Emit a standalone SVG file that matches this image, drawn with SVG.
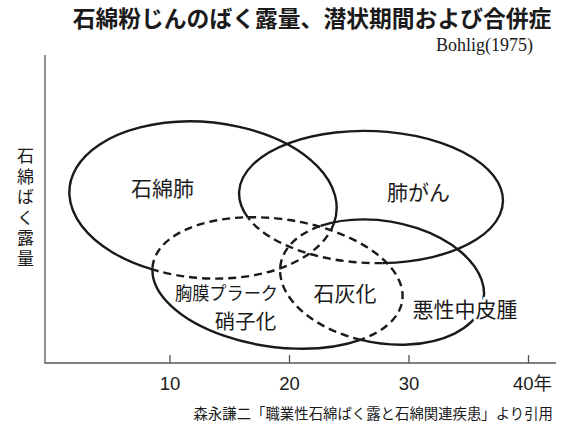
<svg xmlns="http://www.w3.org/2000/svg" width="572" height="424" viewBox="0 0 572 424">
<style>
.bg{fill:#fff}
.ax{stroke:#555;stroke-width:1.3;fill:none}
.s{fill:none;stroke:#1a1a1a;stroke-width:2.4}
.d{fill:none;stroke:#1a1a1a;stroke-width:2.4;stroke-dasharray:8 5}
.jp{font-family:"Noto Sans CJK JP","Noto Sans",sans-serif;fill:#1a1a1a}
.lbl{font-size:21px;text-anchor:middle}
.num{font-family:"Liberation Sans","Noto Sans CJK JP",sans-serif;font-size:18.5px;fill:#1a1a1a;text-anchor:middle}
</style>
<rect class="bg" x="0" y="0" width="572" height="424"/>
<g id="title">
<text class="jp" x="312" y="27" font-size="22.8" font-weight="bold" text-anchor="middle">石綿粉じんのばく露量、潜状期間および合併症</text>
<text x="533" y="51" font-family="Liberation Serif,serif" font-size="18" fill="#1a1a1a" text-anchor="end">Bohlig(1975)</text>
</g>
<g id="axes">
<path class="ax" d="M45,55 V363 H556"/>
<path class="ax" d="M170,355 V363 M289.5,355 V363 M409,355 V363 M528.5,355 V363"/>
<text class="num" x="170" y="390">10</text>
<text class="num" x="289.5" y="390">20</text>
<text class="num" x="409" y="390">30</text>
<text class="num" x="513" y="390" style="text-anchor:start">40年</text>
<text class="jp" x="25.5" y="147" font-size="17" style="writing-mode:vertical-rl;letter-spacing:3.6px">石綿ばく露量</text>
</g>
<g id="connectors">
<path class="s" d="M333.8,223.7 A134,78 5 1 0 153.1,269.7"/>
<path class="d" d="M333.8,223.7 A134,78 5 0 1 153.1,269.7"/>
<path class="s" d="M247.8,217.4 A132,66 2 1 1 382.5,263.1"/>
<path class="d" d="M382.5,263.1 A132,66 2 0 1 247.8,217.4"/>
<path class="s" d="M361.1,339.6 A126,64 8 0 1 152.5,267.7"/>
<path class="d" d="M152.5,267.7 A126,64 8 1 1 361.1,339.6"/>
<path class="s" d="M320.6,225.9 A103,61 10 1 1 360.9,339.9"/>
<path class="d" d="M360.9,339.9 A103,61 10 0 1 320.6,225.9"/>
</g>
<g id="asbestosis">
<text class="jp lbl" x="162.5" y="195.5">石綿肺</text>
</g>
<g id="lung-cancer">
<text class="jp lbl" x="418.5" y="200">肺がん</text>
</g>
<g id="pleural-plaque">
<text class="jp" x="175" y="300" font-size="18" textLength="103" lengthAdjust="spacingAndGlyphs">胸膜プラーク</text>
<text class="jp" x="245.5" y="329" font-size="20.5" text-anchor="middle">硝子化</text>
</g>
<g id="calcification">
<text class="jp lbl" x="345" y="301">石灰化</text>
</g>
<g id="mesothelioma">
<text class="jp lbl" x="465" y="317" stroke="#fff" stroke-width="6" stroke-linejoin="round" paint-order="stroke">悪性中皮腫</text>
</g>
<g id="source">
<text class="jp" x="553" y="419" font-size="14.4" text-anchor="end">森永謙二「職業性石綿ばく露と石綿関連疾患」より引用</text>
</g>
</svg>
